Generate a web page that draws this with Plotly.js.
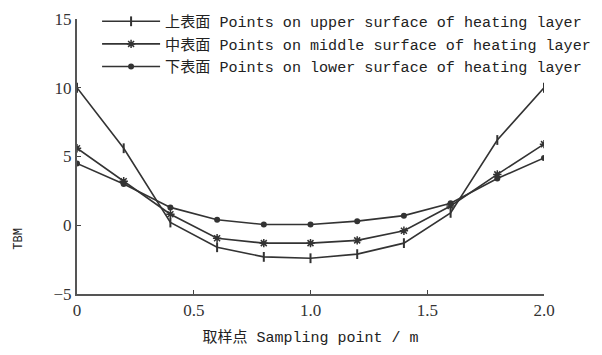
<!DOCTYPE html>
<html>
<head>
<meta charset="utf-8">
<script src="https://cdn.plot.ly/plotly-3.0.1.min.js"></script>
<style>html,body{margin:0;padding:0;background:#fff;}#chart{width:602px;height:355px;}</style>
</head>
<body>
<div id="chart"></div>
<script>
var samplingPoints = [0, 0.2, 0.4, 0.6, 0.8, 1.0, 1.2, 1.4, 1.6, 1.8, 2.0];
var upperSurface = [10, 5.6, 0.2, -1.6, -2.3, -2.4, -2.1, -1.3, 0.9, 6.2, 10];
var middleSurface = [5.6, 3.2, 0.8, -0.95, -1.3, -1.3, -1.1, -0.4, 1.4, 3.7, 5.9];
var lowerSurface = [4.5, 3.0, 1.3, 0.4, 0.05, 0.05, 0.3, 0.7, 1.6, 3.4, 4.9];
var seriesNames = [
  "上表面 Points on upper surface of heating layer",
  "中表面 Points on middle surface of heating layer",
  "下表面 Points on lower surface of heating layer"
];
var xTickVals = [0, 0.5, 1.0, 1.5, 2.0];
var xTickText = ["0", "0.5", "1.0", "1.5", "2.0"];
var yTickVals = [-5, 0, 5, 10, 15];

var FONT = "'Liberation Mono', 'Noto Sans CJK SC', monospace";
var TICKFONT = "'Liberation Serif', 'Noto Sans CJK SC', serif";
var ink = "#333";

var traces = [
  {x: samplingPoints, y: upperSurface, name: seriesNames[0], mode: "lines+markers",
   line: {color: ink, width: 1.6}, marker: {symbol: "line-ns-open", size: 7, color: ink, line: {width: 2, color: ink}}},
  {x: samplingPoints, y: middleSurface, name: seriesNames[1], mode: "lines+markers",
   line: {color: ink, width: 1.6}, marker: {symbol: "asterisk-open", size: 7, color: ink, line: {width: 1.5, color: ink}}},
  {x: samplingPoints, y: lowerSurface, name: seriesNames[2], mode: "lines+markers",
   line: {color: ink, width: 1.6}, marker: {symbol: "circle", size: 6, color: ink}}
];

var layout = {
  width: 602, height: 355,
  margin: {l: 77, r: 58, t: 19, b: 61, autoexpand: false},
  paper_bgcolor: "#fff", plot_bgcolor: "#fff",
  font: {family: FONT, color: "#222", size: 14},
  showlegend: true,
  legend: {x: 0.043, y: 1.051, xanchor: "left", yanchor: "top",
           bgcolor: "rgba(0,0,0,0)", itemwidth: 58,
           font: {family: FONT, size: 15.1, color: "#222"}, tracegroupgap: 0},
  xaxis: {range: [0, 2.0], tickvals: xTickVals, ticktext: xTickText, ticks: "inside", ticklen: 4,
          tickcolor: "#444", showline: true, linecolor: "#555", linewidth: 2, showgrid: false, zeroline: false,
          tickfont: {family: TICKFONT, size: 17, color: "#333"},
          title: {text: "取样点 Sampling point / m", font: {family: FONT, size: 15, color: "#222"}, standoff: 12}},
  yaxis: {range: [-5, 15], tickvals: yTickVals, ticks: "inside", ticklen: 4,
          tickcolor: "#444", showline: true, linecolor: "#555", linewidth: 2, showgrid: false, zeroline: false,
          tickfont: {family: TICKFONT, size: 17, color: "#333"}},
  annotations: [
    {text: "TBM", xref: "paper", yref: "paper", x: -0.125, y: 0.2, xanchor: "center", yanchor: "middle",
     textangle: -90, showarrow: false, font: {family: FONT, size: 12, color: "#222"}}
  ]
};

Plotly.newPlot("chart", traces, layout, {displayModeBar: false, staticPlot: true});
</script>
</body>
</html>
